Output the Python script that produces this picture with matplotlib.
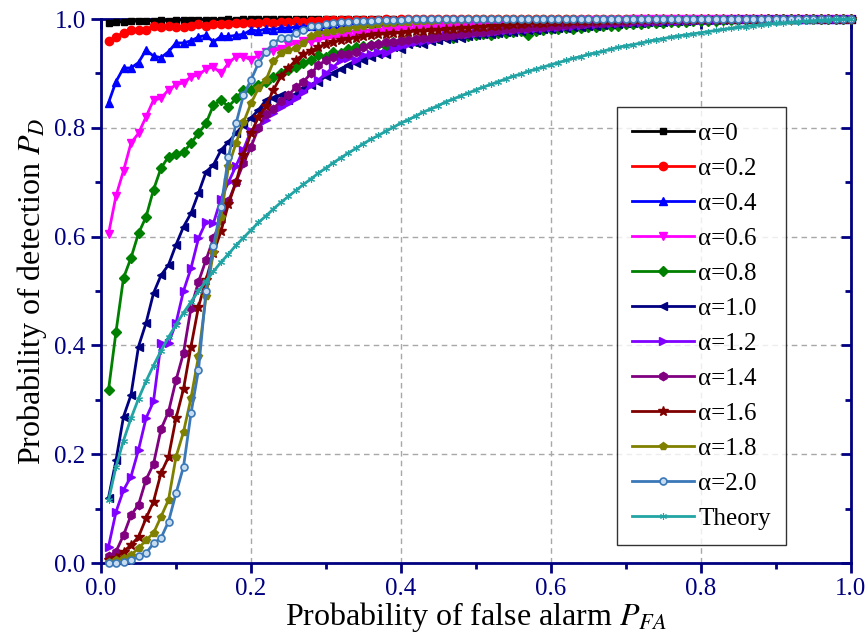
import numpy as np
import matplotlib
matplotlib.use("Agg")
import matplotlib.pyplot as plt

plt.rcParams["font.family"] = ["Liberation Serif", "DejaVu Serif"]
plt.rcParams["mathtext.fontset"] = "stix"

# false alarm probability grid
pfa = np.arange(1, 101) / 100

ones_80 = [1.0] * 80

pd_a00 = [0.993, 0.994, 0.995, 0.996, 0.996, 0.997, 0.997, 0.998, 0.997, 0.998,
          0.998, 0.999, 0.998, 0.999, 0.999, 0.999, 1.0, 0.999, 1.0, 1.0] + ones_80

pd_a02 = [0.960, 0.967, 0.975, 0.980, 0.980, 0.980, 0.988, 0.985, 0.988, 0.985,
          0.986, 0.987, 0.990, 0.988, 0.990, 0.991, 0.990, 0.992, 0.993, 0.992,
          0.993, 0.994, 0.993, 0.995, 0.995, 0.996, 0.995, 0.997, 0.997, 0.998,
          0.998, 0.998, 0.999, 0.998, 0.999, 0.999, 0.999, 1.0, 0.999, 1.0] + [1.0] * 60

pd_a04 = [0.846, 0.885, 0.910, 0.910, 0.920, 0.943, 0.932, 0.929, 0.940, 0.956,
          0.956, 0.960, 0.967, 0.970, 0.958, 0.968, 0.968, 0.970, 0.972, 0.980,
          0.978, 0.982, 0.980, 0.984, 0.983, 0.986, 0.985, 0.988, 0.987, 0.990,
          0.989, 0.991, 0.990, 0.992, 0.993, 0.992, 0.994, 0.995, 0.994, 0.996,
          0.996, 0.997, 0.996, 0.997, 0.998, 0.998, 0.997, 0.998, 0.999, 0.999,
          0.999, 0.999, 1.0, 0.999, 1.0, 1.0, 1.0, 1.0, 1.0, 1.0] + [1.0] * 40

pd_a06 = [0.605, 0.675, 0.721, 0.772, 0.790, 0.820, 0.851, 0.854, 0.870, 0.879,
          0.883, 0.894, 0.897, 0.908, 0.912, 0.900, 0.919, 0.931, 0.931, 0.925,
          0.933, 0.940, 0.942, 0.945, 0.952, 0.955, 0.960, 0.958, 0.962, 0.965,
          0.966, 0.968, 0.970, 0.972, 0.975, 0.974, 0.977, 0.979, 0.980, 0.982,
          0.983, 0.984, 0.985, 0.986, 0.986, 0.988, 0.988, 0.989, 0.990, 0.990,
          0.991, 0.992, 0.992, 0.993, 0.994, 0.994, 0.995, 0.995, 0.996, 0.996,
          0.997, 0.997, 0.997, 0.998, 0.998, 0.998, 0.999, 0.999, 0.999, 0.999] + [1.0] * 30

pd_a08 = [0.318, 0.425, 0.524, 0.561, 0.606, 0.636, 0.686, 0.726, 0.747, 0.752,
          0.755, 0.772, 0.790, 0.808, 0.842, 0.851, 0.839, 0.854, 0.870, 0.870,
          0.879, 0.885, 0.894, 0.900, 0.906, 0.912, 0.919, 0.925, 0.933, 0.930,
          0.940, 0.938, 0.945, 0.948, 0.950, 0.952, 0.955, 0.950, 0.958, 0.960,
          0.962, 0.960, 0.964, 0.967, 0.965, 0.968, 0.966, 0.970, 0.968, 0.970,
          0.972, 0.970, 0.975, 0.974, 0.976, 0.978, 0.970, 0.978, 0.980, 0.981,
          0.982, 0.983, 0.982, 0.984, 0.985, 0.986, 0.987, 0.988, 0.988, 0.990,
          0.990, 0.991, 0.992, 0.992, 0.993, 0.994, 0.994, 0.995, 0.996, 0.996,
          0.997, 0.997, 0.998, 0.998, 0.998, 0.999, 0.999, 0.999, 1.0, 1.0] + [1.0] * 10

pd_a10 = [0.120, 0.189, 0.269, 0.309, 0.398, 0.441, 0.496, 0.529, 0.548, 0.585,
          0.618, 0.643, 0.680, 0.719, 0.732, 0.759, 0.774, 0.790, 0.805, 0.818,
          0.833, 0.851, 0.854, 0.860, 0.851, 0.862, 0.873, 0.879, 0.885, 0.895,
          0.900, 0.908, 0.915, 0.920, 0.925, 0.930, 0.935, 0.935, 0.949, 0.945,
          0.955, 0.956, 0.955, 0.960, 0.962, 0.964, 0.966, 0.965, 0.968, 0.970,
          0.972, 0.973, 0.975, 0.976, 0.977, 0.978, 0.979, 0.980, 0.981, 0.982,
          0.983, 0.984, 0.985, 0.986, 0.987, 0.988, 0.989, 0.990, 0.991, 0.992,
          0.993, 0.993, 0.994, 0.995, 0.995, 0.996, 0.997, 0.997, 0.998, 0.998,
          0.999, 0.999, 0.999, 1.0, 1.0, 1.0, 1.0, 1.0, 1.0, 1.0] + [1.0] * 10

pd_a12 = [0.030, 0.094, 0.134, 0.159, 0.208, 0.266, 0.297, 0.404, 0.404, 0.441,
          0.500, 0.542, 0.597, 0.627, 0.625, 0.670, 0.700, 0.730, 0.760, 0.795,
          0.800, 0.815, 0.828, 0.839, 0.845, 0.855, 0.865, 0.878, 0.888, 0.900,
          0.912, 0.925, 0.928, 0.925, 0.933, 0.936, 0.940, 0.938, 0.945, 0.950,
          0.955, 0.958, 0.960, 0.962, 0.966, 0.970, 0.970, 0.972, 0.973, 0.975,
          0.976, 0.977, 0.978, 0.979, 0.980, 0.981, 0.982, 0.983, 0.984, 0.985,
          0.986, 0.987, 0.988, 0.989, 0.990, 0.991, 0.992, 0.992, 0.993, 0.994,
          0.994, 0.995, 0.995, 0.996, 0.996, 0.997, 0.997, 0.998, 0.998, 0.998,
          0.999, 0.999, 0.999, 1.0, 1.0, 1.0, 1.0, 1.0, 1.0, 1.0] + [1.0] * 10

pd_a14 = [0.012, 0.021, 0.051, 0.088, 0.107, 0.153, 0.182, 0.246, 0.278, 0.336,
          0.386, 0.469, 0.517, 0.557, 0.597, 0.630, 0.665, 0.700, 0.735, 0.765,
          0.800, 0.825, 0.835, 0.850, 0.860, 0.875, 0.885, 0.900, 0.915, 0.925,
          0.930, 0.935, 0.935, 0.940, 0.948, 0.952, 0.955, 0.957, 0.958, 0.960,
          0.962, 0.963, 0.965, 0.966, 0.967, 0.968, 0.970, 0.972, 0.974, 0.976,
          0.977, 0.978, 0.980, 0.981, 0.982, 0.983, 0.984, 0.985, 0.986, 0.987,
          0.988, 0.989, 0.990, 0.991, 0.992, 0.992, 0.993, 0.994, 0.995, 0.995,
          0.996, 0.996, 0.997, 0.997, 0.998, 0.998, 0.999, 0.999, 0.999, 1.0] + [1.0] * 20

pd_a16 = [0.005, 0.010, 0.021, 0.033, 0.048, 0.082, 0.113, 0.165, 0.195, 0.266,
          0.320, 0.398, 0.471, 0.520, 0.570, 0.610, 0.660, 0.700, 0.750, 0.790,
          0.820, 0.840, 0.870, 0.895, 0.910, 0.925, 0.935, 0.942, 0.948, 0.955,
          0.958, 0.961, 0.964, 0.966, 0.968, 0.970, 0.972, 0.973, 0.974, 0.975,
          0.977, 0.978, 0.978, 0.979, 0.980, 0.981, 0.982, 0.983, 0.984, 0.985,
          0.986, 0.987, 0.988, 0.989, 0.990, 0.991, 0.992, 0.992, 0.993, 0.994,
          0.995, 0.995, 0.996, 0.996, 0.997, 0.997, 0.998, 0.998, 0.999, 0.999] + [1.0] * 30

pd_a18 = [0.002, 0.005, 0.009, 0.015, 0.027, 0.042, 0.055, 0.085, 0.116, 0.195,
          0.241, 0.303, 0.380, 0.490, 0.572, 0.636, 0.729, 0.772, 0.810, 0.845,
          0.873, 0.888, 0.922, 0.937, 0.943, 0.946, 0.956, 0.968, 0.974, 0.976,
          0.978, 0.980, 0.983, 0.985, 0.988, 0.989, 0.990, 0.992, 0.993, 0.994,
          0.995, 0.996, 0.996, 0.997, 0.998, 0.998, 0.999, 0.999, 1.0, 1.0] + [1.0] * 50

pd_a20 = [0.000, 0.000, 0.002, 0.005, 0.012, 0.018, 0.036, 0.046, 0.076, 0.128,
          0.177, 0.275, 0.355, 0.500, 0.582, 0.655, 0.747, 0.808, 0.860, 0.888,
          0.919, 0.940, 0.956, 0.965, 0.966, 0.974, 0.980, 0.987, 0.988, 0.990,
          0.993, 0.994, 0.995, 0.996, 0.997, 0.997, 0.998, 0.998, 0.999, 0.999] + [1.0] * 60

pd_theory = [0.115, 0.177, 0.225, 0.266, 0.302, 0.334, 0.363, 0.390, 0.415, 0.438,
             0.460, 0.480, 0.500, 0.518, 0.536, 0.553, 0.568, 0.584, 0.598, 0.612,
             0.626, 0.638, 0.651, 0.663, 0.674, 0.685, 0.696, 0.706, 0.717, 0.726,
             0.736, 0.745, 0.754, 0.762, 0.771, 0.779, 0.786, 0.794, 0.801, 0.809,
             0.815, 0.822, 0.829, 0.835, 0.841, 0.848, 0.853, 0.859, 0.864, 0.870,
             0.875, 0.880, 0.885, 0.890, 0.895, 0.899, 0.904, 0.908, 0.912, 0.916,
             0.920, 0.924, 0.928, 0.931, 0.935, 0.938, 0.941, 0.945, 0.948, 0.951,
             0.953, 0.956, 0.959, 0.962, 0.964, 0.967, 0.969, 0.971, 0.973, 0.975,
             0.977, 0.979, 0.981, 0.983, 0.985, 0.986, 0.988, 0.989, 0.991, 0.992,
             0.993, 0.994, 0.995, 0.996, 0.997, 0.998, 0.9987, 0.9993, 0.9997, 1.0]

labels = ["α=0", "α=0.2", "α=0.4", "α=0.6", "α=0.8", "α=1.0",
          "α=1.2", "α=1.4", "α=1.6", "α=1.8", "α=2.0", "Theory"]
series = [pd_a00, pd_a02, pd_a04, pd_a06, pd_a08, pd_a10,
          pd_a12, pd_a14, pd_a16, pd_a18, pd_a20, pd_theory]
colors = ["#000000", "#ff0000", "#0000ff", "#ff00ff", "#008000", "#000080",
          "#8000ff", "#800080", "#800000", "#808000", "#3a78b8", "#22a4a4"]
markers = ["s", "o", "^", "v", "D", "<", ">", "h", "*", "p", "o", (6, 2, 0)]
msizes = [5, 6, 6, 6, 5, 6, 6, 6, 7, 6, 5, 5]

navy = "#000080"

fig = plt.figure(figsize=(8.67, 6.43), dpi=100)
ax = fig.add_axes([0.1165, 0.1244, 0.865, 0.846])

for y, lab, c, m, ms in zip(series, labels, colors, markers, msizes):
    kw = {}
    if lab == "α=2.0":
        kw = dict(markerfacecolor="#c8dcf0", markeredgewidth=1.2)
    elif lab == "Theory":
        kw = dict(markeredgewidth=0.8)
    ax.plot(pfa, y, color=c, marker=m, markersize=ms, linewidth=2,
            label=lab, clip_on=False, zorder=3, **kw)

ax.set_xlim(0, 1)
ax.set_ylim(0, 1)
ax.set_xticks(np.arange(0, 1.01, 0.2))
ax.set_yticks(np.arange(0, 1.01, 0.2))
ax.set_xticks(np.arange(0.1, 1.0, 0.2), minor=True)
ax.set_yticks(np.arange(0.1, 1.0, 0.2), minor=True)
ax.xaxis.set_major_formatter(matplotlib.ticker.FormatStrFormatter("%.1f"))
ax.yaxis.set_major_formatter(matplotlib.ticker.FormatStrFormatter("%.1f"))

ax.grid(True, which="major", color="#a8a8a8", linestyle=(0, (4, 3)), linewidth=1)
ax.set_axisbelow(True)

for sp in ax.spines.values():
    sp.set_color(navy)
    sp.set_linewidth(2)

ax.tick_params(which="major", direction="out", length=7, width=2, color=navy,
               labelcolor=navy, labelsize=18, pad=4)
ax.tick_params(which="minor", direction="out", length=4, width=2, color=navy)
ax.tick_params(top=True, right=True, which="both")
# top and right ticks point inward
for t in ax.xaxis.get_ticklines(minor=False)[1::2] + ax.xaxis.get_ticklines(minor=True)[1::2]:
    t.set_marker(matplotlib.lines.TICKDOWN)
for t in ax.yaxis.get_ticklines(minor=False)[1::2] + ax.yaxis.get_ticklines(minor=True)[1::2]:
    t.set_marker(matplotlib.lines.TICKLEFT)

ax.set_xlabel("Probability of false alarm $P_{FA}$", fontsize=23, labelpad=0)
ax.set_ylabel("Probability of detection $P_{D}$", fontsize=23, labelpad=4)

leg = ax.legend(loc="upper left", bbox_to_anchor=(0.688, 0.838), fontsize=18,
                frameon=True, fancybox=False, edgecolor="black",
                handlelength=2.5, handletextpad=0.15, labelspacing=0.5,
                borderpad=0.6, borderaxespad=0)
leg.get_frame().set_linewidth(1)
leg.set_zorder(5)

fig.savefig("out.png", dpi=100)
